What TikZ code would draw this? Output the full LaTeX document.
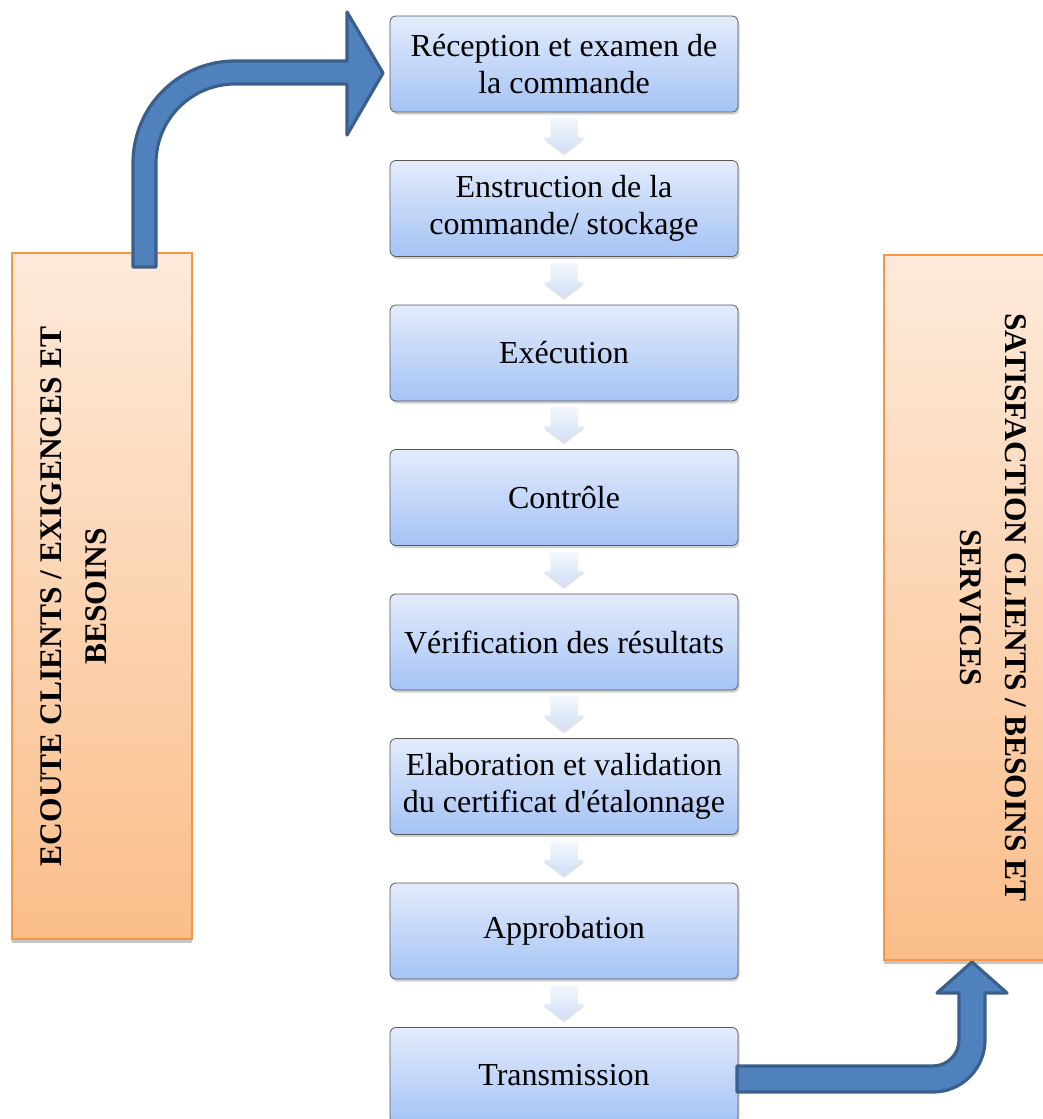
\documentclass[tikz,border=0pt]{standalone}
\usepackage{fontspec}
\setmainfont{Liberation Serif}
\usetikzlibrary{shadows,calc}
\definecolor{boxtop}{HTML}{E3ECFC}
\definecolor{boxbot}{HTML}{A5C3F5}
\definecolor{ortop}{HTML}{FDEADA}
\definecolor{orbot}{HTML}{FBBE8A}
\definecolor{orline}{HTML}{F79646}
\definecolor{arrfill}{HTML}{4F81BD}
\definecolor{arrline}{HTML}{3A5F8C}
\definecolor{smtop}{HTML}{F4F7FD}
\definecolor{smbot}{HTML}{D0DEF7}
\begin{document}
\begin{tikzpicture}[x=1pt,y=-1pt,
 stepbox/.style={rectangle, rounded corners=6pt, draw=gray!70!black, line width=0.8pt,
   top color=boxtop, bottom color=boxbot, minimum width=348pt, minimum height=96pt,
   align=center, inner sep=0pt, font=\fontsize{32}{37}\selectfont,
   drop shadow={opacity=0.35, shadow xshift=1.5pt, shadow yshift=-2.5pt}},
 sidebox/.style={rectangle, draw=orline, line width=1.5pt, top color=ortop, bottom color=orbot,
   drop shadow={opacity=0.45, shadow xshift=0pt, shadow yshift=-4pt, fill=gray}},
 sidetext/.style={align=center, inner sep=0pt, font=\fontsize{31.5}{45}\selectfont\bfseries},
 bigarrow/.style={fill=arrfill, draw=arrline, line width=3.2pt, line join=round},
 smallarrow/.style={top color=smtop, bottom color=smbot, draw=none,
   drop shadow={opacity=0.22, shadow xshift=0pt, shadow yshift=-2pt}}
]
\useasboundingbox (0,0) rectangle (1043,1119);
\fill[white] (0,0) rectangle (1043,1119);

% side boxes
\node[sidebox, minimum width=180pt, minimum height=686pt] (left) at (102,596) {};
\node[sidebox, minimum width=163pt, minimum height=705pt] (right) at (965.5,607.5) {};
\node[sidetext, rotate=90] (ltext) at (73.5,596.5) {ECOUTE CLIENTS / EXIGENCES ET\\BESOINS};
\node[sidetext, rotate=-90] (rtext) at (993.5,607.5) {SATISFACTION CLIENTS / BESOINS ET\\SERVICES};

% process steps
\node[stepbox] (b1) at (564,64) {Réception et examen de\\la commande};
\node[stepbox] (b2) at (564,208.5) {Enstruction de la\\commande/ stockage};
\node[stepbox] (b3) at (564,353) {Exécution};
\node[stepbox] (b4) at (564,497.5) {Contrôle};
\node[stepbox] (b5) at (564,642) {Vérification des résultats};
\node[stepbox] (b6) at (564,786.5) {Elaboration et validation\\du certificat d\textquotesingle étalonnage};
\node[stepbox] (b7) at (564,931) {Approbation};
\node[stepbox] (b8) at (564,1075.5) {Transmission};

% small arrows between steps
\foreach \i in {1,...,7} {
  \begin{scope}[shift={(b\i.south)}]
    \path[smallarrow] (-13.5,6) -- (13.5,6) -- (13.5,25) -- (20.5,25) -- (0,41)
      -- (-20.5,25) -- (-13.5,25) -- cycle;
  \end{scope}
}

% big bent arrows
\path[bigarrow] (133,267) -- (133,163) arc[start angle=180, end angle=270, radius=102]
  -- (347,61) -- (347,12) -- (383,73) -- (347,135) -- (347,84) -- (235,84)
  arc[start angle=270, end angle=180, radius=79] -- (156,267) -- cycle;

\path[bigarrow] (737,1066) -- (933,1066) arc[start angle=90, end angle=0, radius=26]
  -- (959,993) -- (937,993) -- (972,962) -- (1007,993) -- (985,993) -- (985,1040)
  arc[start angle=0, end angle=90, radius=52] -- (737,1092) -- cycle;
\end{tikzpicture}
\end{document}
